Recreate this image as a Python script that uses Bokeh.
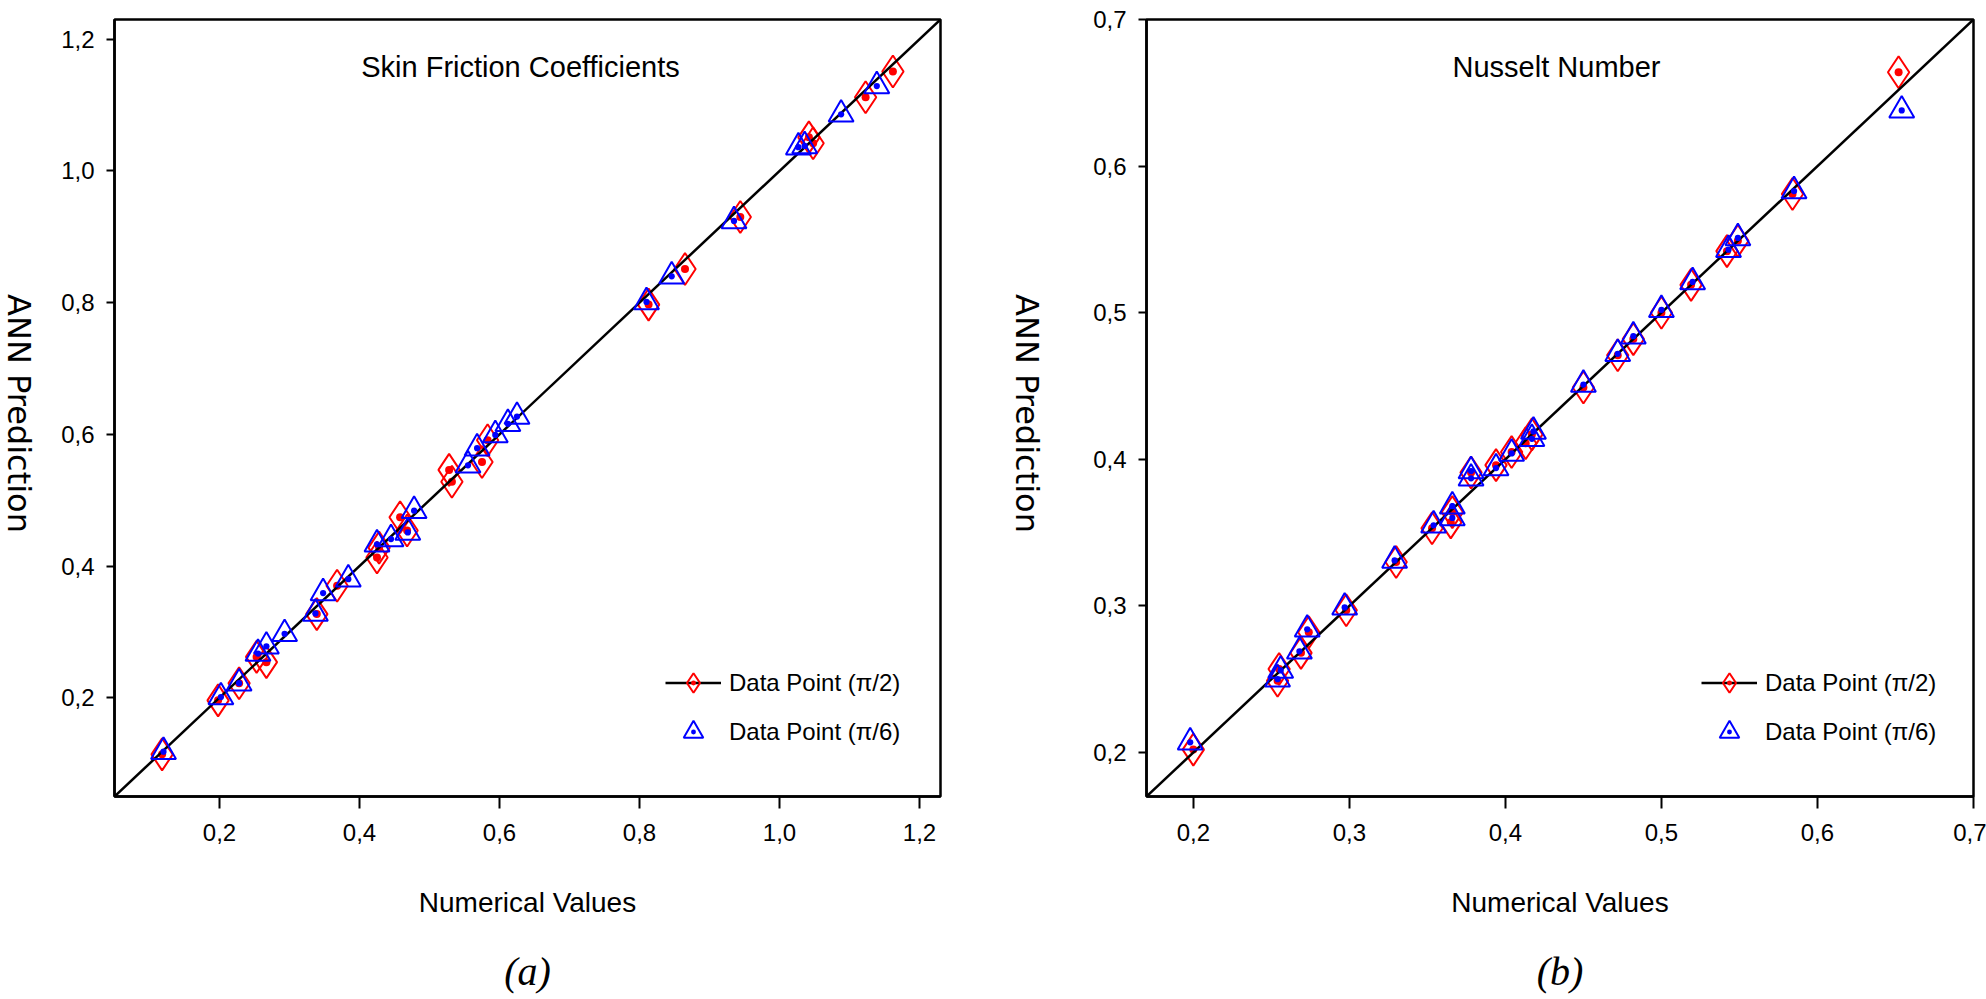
import math
from bokeh.plotting import figure
from bokeh.models import Range1d, FixedTicker, Label, Legend, LegendItem, LinearAxis
from bokeh.layouts import row
from bokeh.embed import file_html
from bokeh.resources import INLINE

# ---------------- data ----------------
# Panel (a): Skin friction coefficients
SF_NUM_PI2 = [0.118, 0.198, 0.228, 0.253, 0.267, 0.339, 0.368, 0.425, 0.428, 0.458, 0.468,
              0.528, 0.532, 0.575, 0.583, 0.813, 0.865, 0.944, 1.042, 1.048, 1.123, 1.162]
SF_ANN_PI2 = [0.114, 0.196, 0.222, 0.262, 0.254, 0.327, 0.370, 0.413, 0.428, 0.474, 0.454,
              0.546, 0.528, 0.558, 0.591, 0.797, 0.851, 0.930, 1.051, 1.042, 1.112, 1.151]
SF_NUM_PI6 = [0.120, 0.202, 0.228, 0.255, 0.267, 0.293, 0.337, 0.348, 0.384, 0.425, 0.445,
              0.469, 0.478, 0.555, 0.568, 0.594, 0.612, 0.625, 0.810, 0.846, 0.935, 1.027,
              1.036, 1.088, 1.139]
SF_ANN_PI6 = [0.118, 0.201, 0.222, 0.267, 0.278, 0.297, 0.328, 0.359, 0.380, 0.433, 0.441,
              0.451, 0.484, 0.553, 0.579, 0.599, 0.616, 0.627, 0.801, 0.840, 0.924, 1.036,
              1.038, 1.086, 1.129]

# Panel (b): Nusselt number
NU_NUM_PI2 = [0.200, 0.254, 0.255, 0.269, 0.274, 0.298, 0.330, 0.353, 0.366, 0.365, 0.378,
              0.394, 0.404, 0.413, 0.417, 0.450, 0.472, 0.482, 0.500, 0.519, 0.542, 0.549,
              0.584, 0.652]
NU_ANN_PI2 = [0.202, 0.249, 0.257, 0.268, 0.282, 0.297, 0.330, 0.353, 0.364, 0.357, 0.391,
              0.396, 0.405, 0.411, 0.417, 0.449, 0.471, 0.482, 0.500, 0.519, 0.542, 0.549,
              0.581, 0.664]
NU_NUM_PI6 = [0.198, 0.254, 0.256, 0.268, 0.273, 0.297, 0.329, 0.354, 0.366, 0.366, 0.378,
              0.378, 0.394, 0.404, 0.417, 0.418, 0.450, 0.472, 0.482, 0.500, 0.520, 0.543,
              0.549, 0.585, 0.654]
NU_ANN_PI6 = [0.207, 0.250, 0.256, 0.269, 0.284, 0.299, 0.331, 0.355, 0.360, 0.368, 0.387,
              0.392, 0.394, 0.404, 0.414, 0.419, 0.451, 0.472, 0.484, 0.502, 0.521, 0.543,
              0.551, 0.583, 0.638]

SF_RANGE = (0.05, 1.23)
NU_RANGE = (0.17, 0.70)
SF_TICKS = [0.2, 0.4, 0.6, 0.8, 1.0, 1.2]
SF_TICK_LABELS = ["0,2", "0,4", "0,6", "0,8", "1,0", "1,2"]
NU_TICKS = [0.2, 0.3, 0.4, 0.5, 0.6, 0.7]
NU_TICK_LABELS = ["0,2", "0,3", "0,4", "0,5", "0,6", "0,7"]

TITLES = ["Skin Friction Coefficients", "Nusselt Number"]
TAGS = ["(a)", "(b)"]
LEGEND_LABELS = ["Data Point (\u03c0/2)", "Data Point (\u03c0/6)"]
X_LABEL = "Numerical Values"
Y_LABEL = "ANN Prediction"

SANS = "Liberation Sans"
H = 999
FRAME_H = 777
BORDER_TOP = 19
BORDER_BOTTOM = H - BORDER_TOP - FRAME_H
YLAB_CENTER_FROM_TOP = 413


def make_ylabel_strip(width):
    s = figure(width=width, height=H, x_range=Range1d(0, 1), y_range=Range1d(0, 1),
               x_axis_type=None, y_axis_type=None, output_backend="svg",
               toolbar_location=None, min_border_left=0, min_border_right=0,
               min_border_top=BORDER_TOP, min_border_bottom=BORDER_BOTTOM)
    s.grid.visible = False
    s.outline_line_color = None
    s.background_fill_color = "white"
    s.border_fill_color = "white"
    s.add_layout(Label(x=width / 2, y=BORDER_TOP + FRAME_H - YLAB_CENTER_FROM_TOP,
                       x_units="screen", y_units="screen", text=Y_LABEL,
                       angle=-math.pi / 2, text_align="center", text_baseline="middle",
                       text_font="DejaVu Sans", text_font_size="32px", text_color="black"))
    return s


def make_panel(xr, yr, xb, yb, rng, ticks, tick_labels, title, tag,
               width, bl, br, title_dx, leg_dx):
    p = figure(width=width, height=H,
               x_range=Range1d(rng[0], rng[1]), y_range=Range1d(rng[0], rng[1]),
               output_backend="svg", toolbar_location=None,
               min_border_left=bl, min_border_right=br,
               min_border_top=BORDER_TOP, min_border_bottom=BORDER_BOTTOM)
    p.grid.visible = False
    p.background_fill_color = "white"
    p.border_fill_color = "white"
    p.outline_line_color = "black"
    p.outline_line_width = 2.5

    for ax in (p.xaxis[0], p.yaxis[0]):
        ax.ticker = FixedTicker(ticks=ticks)
        ax.major_label_overrides = dict(zip(ticks, tick_labels))
        ax.major_label_text_font = SANS
        ax.major_label_text_font_size = "24px"
        ax.major_label_text_color = "black"
        ax.axis_line_color = "black"
        ax.axis_line_width = 2.5
        ax.major_tick_line_color = "black"
        ax.major_tick_line_width = 2
        ax.major_tick_in = 0
        ax.minor_tick_line_color = None
    p.xaxis.major_tick_out = 12
    p.yaxis.major_tick_out = 8
    p.xaxis.major_label_standoff = 15
    p.yaxis.major_label_standoff = 12

    p.xaxis.axis_label = X_LABEL
    p.xaxis.axis_label_text_font = SANS
    p.xaxis.axis_label_text_font_size = "28px"
    p.xaxis.axis_label_text_font_style = "normal"
    p.xaxis.axis_label_text_color = "black"
    p.xaxis.axis_label_standoff = 43

    # second, bare axis below the first one: carries the panel tag "(a)" / "(b)"
    tag_axis = LinearAxis(ticker=FixedTicker(ticks=[]), axis_label=tag,
                          axis_line_color=None, major_tick_out=0, major_tick_in=0,
                          minor_tick_line_color=None, major_tick_line_color=None,
                          major_label_standoff=0, axis_label_standoff=28,
                          axis_label_text_font="Liberation Serif",
                          axis_label_text_font_style="italic",
                          axis_label_text_font_size="40px",
                          axis_label_text_color="black")
    p.add_layout(tag_axis, "below")

    red = p.scatter(xr, yr, marker="diamond_dot", size=32, line_color="#ff0000",
                    fill_color=None, line_width=2)
    diag = p.line([rng[0], rng[1]], [rng[0], rng[1]], line_color="black", line_width=2.5)
    blue = p.scatter(xb, yb, marker="triangle_dot", size=25, line_color="#0000ff",
                     fill_color=None, line_width=2)

    legend = Legend(items=[LegendItem(label=LEGEND_LABELS[0], renderers=[diag, red]),
                           LegendItem(label=LEGEND_LABELS[1], renderers=[blue])],
                    location=(leg_dx, 40), glyph_width=56, glyph_height=49, spacing=0,
                    padding=0, margin=0, border_line_color=None,
                    background_fill_alpha=0, label_standoff=8,
                    label_text_font=SANS, label_text_font_size="24px",
                    label_text_color="black")
    p.add_layout(legend)

    p.add_layout(Label(x=title_dx, y=FRAME_H + BORDER_TOP - 66, x_units="screen",
                       y_units="screen", text=title,
                       text_align="center", text_baseline="middle",
                       text_font=SANS, text_font_size="29px", text_color="black"))
    return p


s1 = make_ylabel_strip(36)
p1 = make_panel(SF_NUM_PI2, SF_ANN_PI2, SF_NUM_PI6, SF_ANN_PI6, SF_RANGE, SF_TICKS,
                SF_TICK_LABELS, TITLES[0], TAGS[0], width=950, bl=78, br=46,
                title_dx=406, leg_dx=551)
s2 = make_ylabel_strip(80)
p2 = make_panel(NU_NUM_PI2, NU_ANN_PI2, NU_NUM_PI6, NU_ANN_PI6, NU_RANGE, NU_TICKS,
                NU_TICK_LABELS, TITLES[1], TAGS[1], width=920, bl=80, br=13,
                title_dx=410, leg_dx=555)

layout = row(s1, p1, s2, p2)
open("out.html", "w").write(file_html(layout, INLINE))
